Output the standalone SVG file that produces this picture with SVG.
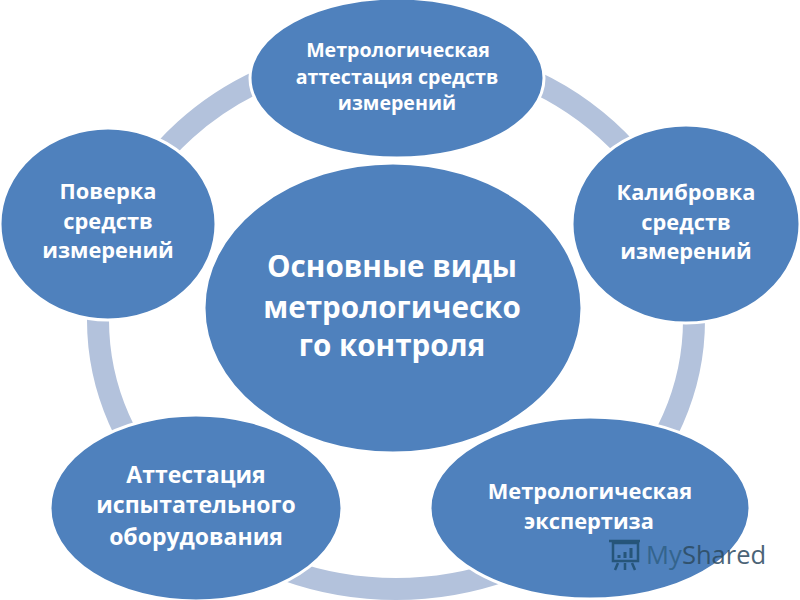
<svg xmlns="http://www.w3.org/2000/svg" width="800" height="600" viewBox="0 0 800 600">
<style>
.n{fill:#4f81bd;stroke:#fff;stroke-width:3}
text{font-family:"Open Sans","Liberation Sans",sans-serif;font-weight:700;fill:#fff;text-anchor:middle}
.s{font-size:19.6px}.m{font-size:21.8px}.b{font-size:23px}.l{font-size:29.6px}
.w{font-weight:400;font-size:25.5px;text-anchor:start}
</style>
<rect width="800" height="600" fill="#fff"/>
<g id="connectors"><ellipse cx="396" cy="320" rx="298" ry="269" fill="none" stroke="#b3c2dc" stroke-width="22"/></g>
<g id="top"><ellipse class="n" cx="397" cy="78" rx="147" ry="80"/><text class="s" x="398" y="57">Метрологическая</text><text class="s" x="397" y="84">аттестация средств</text><text class="s" x="397" y="110">измерений</text></g>
<g id="right"><ellipse class="n" cx="686" cy="224" rx="114" ry="99"/><text class="m" x="686" y="200">Калибровка</text><text class="m" x="686" y="230">средств</text><text class="m" x="686" y="259">измерений</text></g>
<g id="left"><ellipse class="n" cx="108" cy="224" rx="108" ry="96"/><text class="m" x="108" y="199">Поверка</text><text class="m" x="108" y="229">средств</text><text class="m" x="108" y="258">измерений</text></g>
<g id="bottom-left"><ellipse class="n" cx="196" cy="508" rx="146" ry="93"/><text class="b" x="196" y="483">Аттестация</text><text class="b" x="196" y="513">испытательного</text><text class="b" x="196" y="545">оборудования</text></g>
<g id="bottom-right"><ellipse class="n" cx="590" cy="508" rx="160" ry="91"/><text class="m" x="590" y="499">Метрологическая</text><text class="m" x="589" y="529">экспертиза</text></g>
<g id="center"><ellipse class="n" cx="393" cy="308" rx="189" ry="145"/><text class="l" x="392" y="277">Основные виды</text><text class="l" x="392" y="318">метрологическо</text><text class="l" x="392" y="356">го контроля</text></g>
<g id="watermark" opacity=".85"><rect x="613" y="543" width="25" height="18" fill="none" stroke="#1f4e6e" stroke-width="2.5"/><path d="M609 541H640M618 563l-3 7M625 563v7M632 563l3 7" fill="none" stroke="#1f4e6e" stroke-width="2.5"/><path d="M619 558v-3M625 558v-6M631 558v-10" stroke="#1f4e6e" stroke-width="3"/>
<text class="w" x="646" y="564" style="fill:#2f5f85">My</text><text class="w" x="682" y="564" style="fill:#2c4a60">Shared</text></g>
</svg>
